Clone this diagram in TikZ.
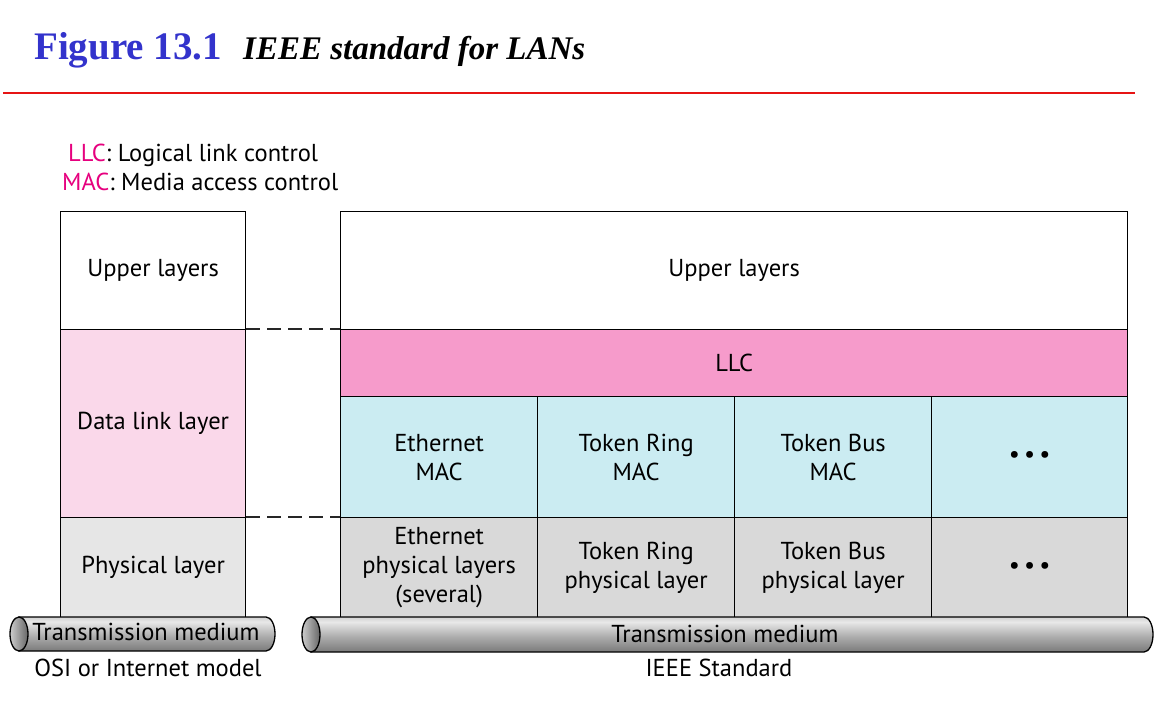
\documentclass[tikz,border=0pt]{standalone}
\usepackage{fontspec}
\setmainfont{PT Sans}
\newfontfamily\titlefont{Liberation Serif}
\definecolor{titleblue}{RGB}{51,51,204}
\definecolor{rulered}{RGB}{230,20,20}
\definecolor{legpink}{RGB}{230,0,126}
\definecolor{dlpink}{RGB}{250,216,234}
\definecolor{llcpink}{RGB}{246,155,203}
\definecolor{maccyan}{RGB}{203,236,242}
\definecolor{lgray}{RGB}{230,230,230}
\definecolor{pgray}{RGB}{217,217,217}
\definecolor{tubeA}{RGB}{140,140,140}
\definecolor{tubeB}{RGB}{115,115,115}
\definecolor{tubeC}{RGB}{175,175,175}
\definecolor{tubeD}{RGB}{232,232,232}
\definecolor{tubeE}{RGB}{170,170,170}
\definecolor{tubeF}{RGB}{145,145,145}
\pgfdeclareverticalshading{tube}{100bp}{color(0bp)=(tubeA); color(22bp)=(tubeB); color(48bp)=(tubeC); color(68bp)=(tubeD); color(88bp)=(tubeE); color(100bp)=(tubeF)}
\newcommand{\bodyfont}{\fontsize{24.5}{29}\selectfont}
\newcommand{\moredots}{\raisebox{-4pt}{•\,•\,•}}
\begin{document}
\begin{tikzpicture}[x=1pt,y=-1pt,
  cell/.style={draw=black, line width=1.3pt, inner sep=0pt, anchor=north west, align=center, font=\bodyfont},
  lbl/.style={inner sep=0pt, font=\bodyfont, align=center},
  tubeline/.style={draw=black, line width=1.3pt},
  guide/.style={draw=black!85, line width=1.3pt, dash pattern=on 14pt off 7pt}]
\useasboundingbox (0,0) rectangle (1157,711);
% title
\node[anchor=base west, inner sep=0pt, font=\titlefont\bfseries\fontsize{39}{44}\selectfont, text=titleblue] (fig) at (34,60) {Figure 13.1};
\node[anchor=base west, inner sep=0pt, font=\titlefont\bfseries\itshape\fontsize{33}{38}\selectfont] (ttl) at (243,60) {IEEE standard for LANs};
\coordinate (rl) at (3,93);
\coordinate (rr) at (1135,93);
\draw[rulered, line width=2pt] (rl) -- (rr);
% legend
\node[anchor=base west, inner sep=0pt, font=\bodyfont] (leg1) at (68,162) {\textcolor{legpink}{LLC}: Logical link control};
\node[anchor=base west, inner sep=0pt, font=\bodyfont] (leg2) at (62,191) {\textcolor{legpink}{MAC}: Media access control};
% left column
\node[cell, fill=white, minimum width=185pt, minimum height=118pt] (lup) at (60,211) {Upper layers};
\node[cell, fill=dlpink, minimum width=185pt, minimum height=188pt] (ldl) at (60,329) {Data link layer};
\node[cell, fill=lgray, minimum width=185pt, minimum height=100pt] (lph) at (60,517) {Physical layer};
% right column
\node[cell, fill=white, minimum width=787pt, minimum height=118pt] (rup) at (340,211) {Upper layers};
\node[cell, fill=llcpink, minimum width=787pt, minimum height=67pt] (llc) at (340,329) {LLC};
\node[cell, fill=maccyan, minimum width=197pt, minimum height=121pt] (emac) at (340,396) {Ethernet\\MAC};
\node[cell, fill=maccyan, minimum width=197pt, minimum height=121pt] (trmac) at (537,396) {Token Ring\\MAC};
\node[cell, fill=maccyan, minimum width=197pt, minimum height=121pt] (tbmac) at (734,396) {Token Bus\\MAC};
\node[cell, fill=maccyan, minimum width=196pt, minimum height=121pt] (omac) at (931,396) {\moredots};
\node[cell, fill=pgray, minimum width=197pt, minimum height=100pt] (ephy) at (340,517) {Ethernet\\physical layers\\(several)};
\node[cell, fill=pgray, minimum width=197pt, minimum height=100pt] (trphy) at (537,517) {Token Ring\\physical layer};
\node[cell, fill=pgray, minimum width=197pt, minimum height=100pt] (tbphy) at (734,517) {Token Bus\\physical layer};
\node[cell, fill=pgray, minimum width=196pt, minimum height=100pt] (ophy) at (931,517) {\moredots};
% dashed guides
\draw[guide] (ldl.north east) -- (llc.north west);
\draw[guide] (lph.north east) -- (ephy.north west);
% left tube
\shadedraw[shading=tube, tubeline] (19,617) -- (266,617) arc[start angle=-90, end angle=90, x radius=9, y radius=17] -- (19,651) -- cycle;
\shadedraw[left color=black!20, right color=black!60, tubeline] (19,634) ellipse[x radius=9, y radius=17];
\node[lbl] (ltm) at (146,632) {Transmission medium};
% right tube
\shadedraw[shading=tube, tubeline] (311,617) -- (1144,617) arc[start angle=-90, end angle=90, x radius=9, y radius=17.5] -- (311,652) -- cycle;
\shadedraw[left color=black!20, right color=black!60, tubeline] (311,634.5) ellipse[x radius=9, y radius=17.5];
\node[lbl] (rtm) at (725,634) {Transmission medium};
% captions
\node[lbl] (osi) at (148,668) {OSI or Internet model};
\node[lbl] (ieee) at (719,668) {IEEE Standard};
\end{tikzpicture}
\end{document}
